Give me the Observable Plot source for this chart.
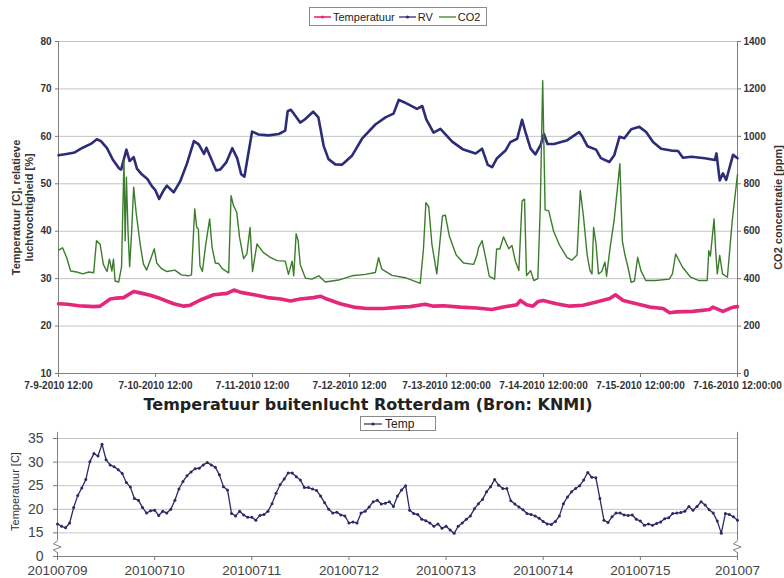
<!DOCTYPE html>
<html><head><meta charset="utf-8">
<script src="https://cdn.jsdelivr.net/npm/d3@7"></script>
<script src="https://cdn.jsdelivr.net/npm/@observablehq/plot@0.6"></script>
<style>
body{margin:0;background:#fff;}
#wrap{position:relative;width:784px;height:578px;overflow:hidden;font-family:"Liberation Sans",Arial,sans-serif;background:#fff;}
#top{position:absolute;left:0;top:0;}
#bot{position:absolute;left:0;top:430px;}
.legend{position:absolute;border:1px solid #8a8a8a;background:#fff;display:flex;align-items:center;color:#222;white-space:nowrap;}
.legend svg{display:block;}
#title2{position:absolute;left:0;width:736px;top:395px;text-align:center;font-family:"DejaVu Sans",Verdana,sans-serif;font-weight:bold;font-size:16px;color:#222;}
</style></head>
<body><div id="wrap">
<div id="top"></div>
<div id="bot"></div>
<div id="title2">Temperatuur buitenlucht Rotterdam (Bron: KNMI)</div>
<div class="legend" id="leg1" style="left:309px;top:7px;width:176px;height:17px;font-size:11px;"></div>
<div class="legend" id="leg2" style="left:360px;top:416px;width:74px;height:13px;font-size:12px;"></div>
</div>
<script>
// ---------- top panel data (hours after 9 July 2010 12:00) ----------
const tempHours = [0,2.2,5,8.7,10.3,12.8,14.4,16.1,18.6,20.2,22.7,25.2,28.5,31,32.6,35.1,38.4,41.7,43.4,45.1,48.4,51.7,55,57.4,59.8,63.1,64.8,66.4,69.7,73,76.3,80.4,84.6,87,90.7,92.8,95.3,99.4,103.5,107.2,110.1,113.4,114.3,115.8,117.4,118.7,119.9,123.2,126.5,129.8,133.1,136.4,137.8,139.7,143,146.3,149.6,151.2,152.9,157,161.1,161.9,164.4,166,167,168];
const tempValues = [24.7,24.6,24.3,24.1,24.2,25.7,25.9,26.0,27.3,27.0,26.5,25.8,24.7,24.2,24.4,25.5,26.6,26.9,27.6,27.1,26.6,26.0,25.7,25.3,25.7,26.0,26.3,25.7,24.7,24.0,23.7,23.7,24.0,24.1,24.6,24.2,24.3,24.0,23.8,23.5,24.0,24.5,25.4,24.5,24.2,25.2,25.4,24.7,24.2,24.4,25.1,25.8,26.6,25.4,24.7,24.0,23.7,22.8,23.0,23.1,23.5,24.0,23.1,23.7,24.0,24.1];

const rvHours = [0,2,4,6,8,9.5,10.5,12,13.5,15,15.5,16.8,17.6,18.6,19.4,20.6,22,23.1,24,24.9,26,26.8,28.5,30.1,31.8,33.5,34.7,36,36.6,37.5,39,40,41.5,43,44.2,45.2,46,46.7,47.9,49.5,52,54.5,56.1,56.7,57.5,59.8,61,63,64.3,65.6,66.8,68.5,70.1,70.9,72.6,75.1,78.4,80.9,82.9,84.2,85.5,88.7,90,91,92.8,94.5,97.4,100,103.2,104.8,106.2,107.3,108.5,110.6,111.8,113.5,114.7,115.5,116.8,118,119.3,120.1,121,122.6,125.9,128.8,129.6,130.9,133,134.2,136.3,137.5,138.8,140,141.7,143.7,145.4,147.1,149.1,151.6,153.3,154.5,156.6,159.9,162.4,162.8,163.6,164.4,165.2,166.9,168];
const rvValues = [56.0,56.3,56.6,57.6,58.4,59.4,59.0,57.5,55.0,53.2,53.0,57.2,54.8,55.6,53.2,52.0,51.0,49.5,48.6,46.8,48.6,49.6,48.2,50.5,54.3,59.0,58.3,56.3,57.6,55.8,52.8,53.0,54.5,57.5,55.4,52.0,51.5,55.0,61.0,60.4,60.2,60.5,61.2,65.3,65.6,62.9,63.6,65.2,64.0,58.0,55.2,54.1,54.0,54.6,55.9,59.5,62.5,64.0,64.8,67.7,67.2,65.8,66.4,63.6,60.8,61.6,58.9,57.3,56.4,57.4,54.0,53.5,55.4,57.0,58.8,59.5,63.5,61.0,57.4,56.2,58.2,60.5,58.4,58.4,59.2,60.9,60.0,57.9,57.2,55.4,54.6,56.0,59.9,59.6,61.5,62.0,60.9,58.8,57.4,57.0,56.9,55.5,55.7,55.4,55.0,56.4,50.7,52.2,50.8,56.1,55.4];

const co2Hours = [0,1,2,3,4.5,6,7.5,8.7,9.4,10.3,11.1,12,12.6,13.2,13.6,14,14.9,15.6,16.2,16.5,16.8,17.2,17.6,18.1,18.6,19.2,20.2,21,21.8,22.7,23.7,24.3,25.5,26.8,28.8,30.4,32.1,32.9,33.7,34.2,34.6,35,35.6,36.4,37.4,38,38.8,39.6,40.5,42.1,42.7,43.3,44.1,44.8,45.8,46.6,47.4,48,49.1,50.7,52.4,54.1,56.1,56.9,57.8,58.2,58.8,59.3,59.8,61.1,62.7,64.4,66,69.3,72.6,75.9,78.4,79.2,80,82.5,85.8,89.5,90.3,90.9,91.6,92.4,93.6,95,95.7,96.7,98.4,100.2,102.7,103.6,103.9,104.8,105.6,106.6,107.9,108.4,109.2,110.1,111.4,112.2,113,113.9,114.7,115.3,115.8,116.8,117.6,118.6,119.2,119.8,120.4,121.3,122.5,124,125.8,127,128.3,129.1,129.9,130.8,131.5,132,132.4,133,133.6,134.4,135.2,135.6,136.4,137.5,138.9,139.5,140.1,140.9,141.7,142.5,143.3,144.1,145.3,147.8,151.1,151.9,152.7,154.4,156.4,158.5,160.5,160.9,161.3,162.2,162.6,163,163.6,164.3,165.5,166.7,168];
const co2Values = [520,530,490,432,428,420,428,425,560,545,460,430,482,432,482,390,386,450,900,560,828,600,450,600,786,680,546,462,436,478,526,466,442,430,436,416,412,416,694,616,610,454,430,540,652,532,466,464,442,424,750,708,680,574,484,504,616,430,546,510,490,476,474,418,474,412,590,560,460,402,398,412,386,394,412,418,426,488,440,414,404,380,525,720,704,544,420,664,668,580,500,466,460,502,530,560,495,410,398,525,525,576,526,540,476,434,728,735,413,434,392,400,700,1235,690,686,600,540,490,478,500,772,660,500,434,420,616,546,420,430,470,410,520,650,885,560,504,448,384,390,490,434,392,392,398,420,504,448,406,392,392,518,495,652,518,420,498,420,406,644,840];

const topTickLabels = ["7-9-2010 12:00","7-10-2010 12:00","7-11-2010 12:00","7-12-2010 12:00","7-13-2010 12:00:00","7-14-2010 12:00:00","7-15-2010 12:00:00","7-16-2010 12:00:00"];
const leftTicks = [10,20,30,40,50,60,70,80];
const co2Ticks = [0,200,400,600,800,1000,1200,1400];

// ---------- bottom panel data (hourly, from 9 July 2010 00:00) ----------
const knmiTemp = [16.9,16.4,16.1,17.1,20.4,22.9,24.5,26.3,30.1,31.8,31.3,33.8,30.5,29.4,29.0,28.4,27.6,25.7,24.7,22.3,21.9,20.4,19.2,19.7,
19.8,18.7,19.6,19.2,20.0,21.9,24.3,25.9,27.1,27.9,28.6,28.7,29.4,29.9,29.4,28.9,27.3,24.8,24.1,19.1,18.6,19.6,18.8,18.3,
18.3,17.7,18.7,18.9,19.6,21.2,23.4,25.2,26.4,27.7,27.7,26.9,26.2,24.6,24.6,24.3,24.0,22.8,21.4,20.0,19.2,19.4,18.8,18.6,
17.1,17.3,17.1,19.2,19.6,20.5,21.6,21.9,21.1,21.3,21.6,20.6,22.8,24.1,25.0,19.8,19.1,18.9,17.9,17.6,17.1,16.4,16.9,16.0,
16.4,15.6,14.9,16.4,17.1,17.9,18.6,20.1,21.2,22.1,23.7,24.8,26.3,25.1,24.4,24.4,21.8,21.1,20.5,19.9,19.1,18.9,18.6,18.1,
17.4,16.9,16.8,17.4,18.6,21.2,22.6,23.7,24.4,25.0,26.2,27.8,26.8,26.7,22.3,17.7,17.2,18.4,19.2,19.2,18.8,18.7,18.8,17.9,
17.5,16.6,16.9,16.6,17.0,17.3,18.0,18.2,19.1,19.2,19.3,19.6,20.6,19.8,20.6,21.6,20.9,19.9,19.2,17.5,14.9,19.1,18.9,18.4,
17.7];
const botTickLabels = ["20100709","20100710","20100711","20100712","20100713","20100714","20100715","201007"];
const botYTicks = [10,15,20,25,30,35];
const botYLabels = ["0","15","20","25","30","35"];

const cPink = "#e3287c", cNavy = "#2c2c78", cGreen = "#3b7d2c", cKnmi = "#2a2a66";
const FONT = "'Liberation Sans', Arial, sans-serif";

// ---------- top chart ----------
const t0 = Date.UTC(2010, 6, 9, 12);
const tDate = h => new Date(t0 + h * 3600e3);
const tempData = tempHours.map((h, i) => ({t: tDate(h), v: tempValues[i]}));
const rvData = rvHours.map((h, i) => ({t: tDate(h), v: rvValues[i]}));
const co2Data = co2Hours.map((h, i) => ({t: tDate(h), v: co2Values[i]}));
const co2ToLeft = c => 10 + c / 20;
const topTicks = topTickLabels.map((_, i) => tDate(i * 24));

const topPlot = Plot.plot({
  width: 784, height: 400,
  marginLeft: 58, marginRight: 47, marginTop: 41, marginBottom: 27,
  x: {type: "utc", domain: [tDate(0), tDate(168)]},
  y: {domain: [10, 80]},
  style: {fontFamily: FONT, fontSize: "10px", color: "#333", background: "transparent", overflow: "visible"},
  marks: [
    Plot.gridY(leftTicks.slice(1), {stroke: "#c4c4c4", strokeOpacity: 1}),
    Plot.axisY({ticks: leftTicks, tickSize: 3, tickPadding: 4, label: null, fontWeight: "bold", stroke: "#777"}),
    Plot.axisY({anchor: "right", ticks: co2Ticks.map(co2ToLeft), tickFormat: d => String(co2Ticks[leftTicks.indexOf(d)]), tickSize: 3, tickPadding: 3, label: null, fontWeight: "bold", stroke: "#777"}),
    Plot.axisX({ticks: topTicks, tickFormat: d => topTickLabels[topTicks.findIndex(t => +t === +d)], tickSize: 4, tickPadding: 4, label: null, fontWeight: "bold", stroke: "#777"}),
    Plot.ruleX([tDate(0), tDate(168)], {stroke: "#808080"}),
    Plot.ruleY([10], {stroke: "#808080"}),
    Plot.line(rvData, {x: "t", y: "v", stroke: cNavy, strokeWidth: 2.6}),
    Plot.line(tempData, {x: "t", y: "v", stroke: cPink, strokeWidth: 3.6}),
    Plot.line(co2Data, {x: "t", y: d => co2ToLeft(d.v), stroke: cGreen, strokeWidth: 1.4}),
    Plot.text(["Temperatuur [C], relatieve\nluchtvochtigheid [%]"], {frameAnchor: "left", textAnchor: "middle", rotate: -90, dx: -36, fontWeight: "bold", fontSize: 11, fill: "#333", lineHeight: 1.15}),
    Plot.text(["CO2 concentratie [ppm]"], {frameAnchor: "right", textAnchor: "middle", rotate: -90, dx: 41, fontWeight: "bold", fontSize: 11, fill: "#333"})
  ]
});
document.getElementById("top").append(topPlot);

// ---------- bottom chart ----------
const b0 = Date.UTC(2010, 6, 9, 0);
const bDate = h => new Date(b0 + h * 3600e3);
const knmiData = knmiTemp.map((v, i) => ({t: bDate(i), v}));
const botTicks = botTickLabels.map((_, i) => bDate(i * 24));
const zig = [[0, 13.3], [-1, 12.7], [0.9, 12.0], [-1, 11.4], [0, 10.8]];

const botPlot = Plot.plot({
  width: 784, height: 148,
  marginLeft: 57, marginRight: 47, marginTop: 8, marginBottom: 22,
  x: {type: "utc", domain: [bDate(0), bDate(168)]},
  y: {domain: [10, 35]},
  style: {fontFamily: FONT, fontSize: "13px", color: "#444", background: "transparent", overflow: "visible"},
  marks: [
    Plot.gridY(botYTicks.slice(1), {stroke: "#c4c4c4", strokeOpacity: 1}),
    Plot.axisY({ticks: botYTicks, tickFormat: d => botYLabels[botYTicks.indexOf(d)], tickSize: 4, tickPadding: 10, label: null, fontSize: 14, stroke: "#777"}),
    Plot.axisX({ticks: botTicks, tickFormat: d => botTickLabels[botTicks.findIndex(t => +t === +d)], tickSize: 4, tickPadding: 5, label: null, fontSize: 13.5, stroke: "#777"}),
    Plot.ruleY([10], {stroke: "#808080"}),
    Plot.ruleX([bDate(0), bDate(168)], {y1: 36.3, y2: 13.3, stroke: "#808080"}),
    Plot.ruleX([bDate(0), bDate(168)], {y1: 10.8, y2: 10, stroke: "#808080"}),
    Plot.line(zig, {x: d => bDate(d[0]), y: d => d[1], stroke: "#808080", strokeWidth: 1}),
    Plot.line(zig, {x: d => bDate(168 + d[0]), y: d => d[1], stroke: "#808080", strokeWidth: 1}),
    Plot.line(knmiData, {x: "t", y: "v", stroke: cKnmi, strokeWidth: 1.3}),
    Plot.dot(knmiData, {x: "t", y: "v", r: 1.5, fill: cKnmi, stroke: "none"}),
    Plot.text(["Temperatuur [C]"], {frameAnchor: "left", textAnchor: "middle", rotate: -90, dx: -42, dy: -6, fontSize: 11, fill: "#333"})
  ]
});
document.getElementById("bot").append(botPlot);

// ---------- legends ----------
function swatch(color, w, sw, dot) {
  return `<svg width="${w}" height="10"><line x1="0" y1="5" x2="${w}" y2="5" stroke="${color}" stroke-width="${sw}"/>` +
    (dot ? `<circle cx="${w/2}" cy="5" r="1.6" fill="${color}"/>` : "") + `</svg>`;
}
document.getElementById("leg1").innerHTML =
  `<span style="margin-left:4px">${swatch(cPink,17,1.6,true)}</span><span style="margin-left:2px">Temperatuur</span>` +
  `<span style="margin-left:4px">${swatch(cNavy,17,1.3,true)}</span><span style="margin-left:2px">RV</span>` +
  `<span style="margin-left:6px">${swatch(cGreen,17,1.3,false)}</span><span style="margin-left:2px">CO2</span>`;
document.getElementById("leg2").innerHTML =
  `<span style="margin-left:3px">${swatch(cKnmi,18,1.2,true)}</span><span style="margin-left:3px">Temp</span>`;
</script>
</body></html>
